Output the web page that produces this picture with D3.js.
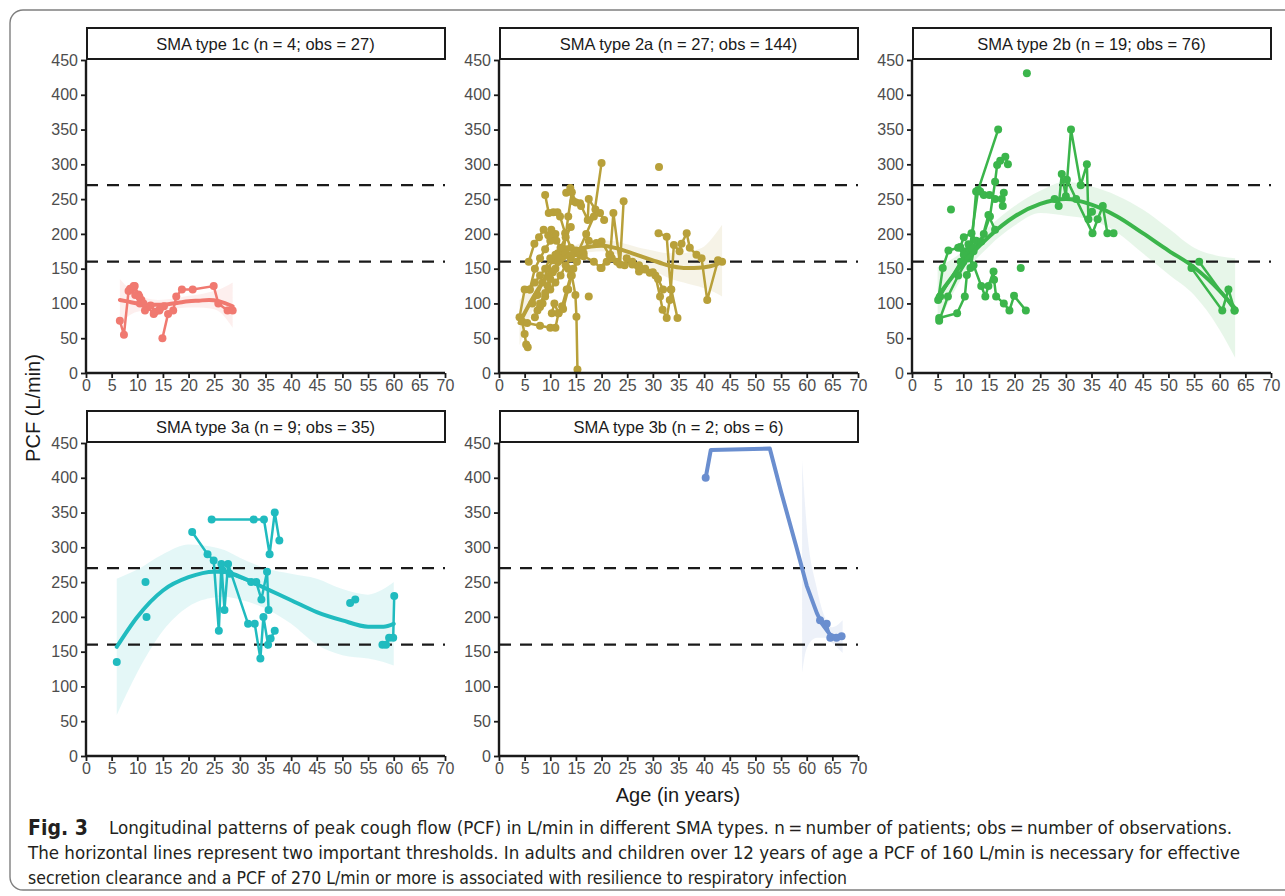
<!DOCTYPE html>
<html>
<head>
<meta charset="utf-8">
<script src="https://cdn.jsdelivr.net/npm/d3@7"></script>
<style>
  body { margin: 0; background: #fff; }
  svg { display: block; }
</style>
</head>
<body>
<div id="chart"></div>
<script>
// ---- data (age in years, PCF in L/min) ----
const ageTicks = d3.range(0, 71, 5);
const pcfTicks = d3.range(0, 451, 50);
const thresholds = [160, 270];

const panelTitles = [
  'SMA type 1c (n = 4; obs = 27)',
  'SMA type 2a (n = 27; obs = 144)',
  'SMA type 2b (n = 19; obs = 76)',
  'SMA type 3a (n = 9; obs = 35)',
  'SMA type 3b (n = 2; obs = 6)'
];
const panelColors = ['#F07970', '#B8A03A', '#3BB54B', '#20BBBF', '#6A8ECF'];

// patient trajectories per SMA type
const traj1c = [
  [[6.6, 75], [7.4, 55], [8.3, 118], [9.0, 122], [9.5, 125], [10.2, 113], [10.8, 105], [11.5, 90]],
  [[8.6, 121], [9.6, 112], [10.5, 100], [12.0, 95], [13.2, 85], [14.3, 90], [15.2, 96]],
  [[9.3, 125], [10.4, 110], [11.2, 100], [12.6, 97], [13.5, 88], [14.4, 92]],
  [[14.9, 50], [16.0, 85], [17.0, 90], [17.6, 110], [18.7, 120], [20.8, 120], [24.9, 125], [25.8, 100], [27.6, 90], [28.6, 90]]
];
const traj2a = [
  [[4, 80], [5, 120], [6, 120], [7, 150], [8, 165], [9, 178], [10, 190], [11, 200]],
  [[4.5, 74], [5, 56], [5.3, 41], [5.6, 37]],
  [[5.8, 160], [6.9, 186], [7.8, 195], [8.7, 206], [9.6, 198], [10.2, 206], [11.2, 190], [12.5, 175]],
  [[9, 256], [9.7, 230], [10.6, 231], [11.4, 231], [11.9, 225], [12.9, 201], [14, 180], [15, 172]],
  [[13.1, 259], [13.9, 266], [14.5, 247], [15.8, 244], [17.3, 220], [17.5, 250], [18.8, 235], [19.7, 230], [20.5, 220]],
  [[13.5, 150], [14.2, 140], [14.9, 112], [15.1, 81], [15.3, 5]],
  [[5.5, 72], [8, 68], [10, 65], [11, 65], [11.6, 86], [12.3, 96], [13.2, 120], [14, 140], [15.2, 160], [16.5, 172], [17.5, 190], [19, 187], [20, 189], [21.5, 170]],
  [[6.5, 100], [7.5, 112], [8.5, 130], [9.5, 150], [10.5, 162], [11.5, 172], [13, 178], [15, 176], [16.5, 168], [18.5, 160], [19.8, 151], [21.7, 170], [22.3, 230], [23.6, 156], [24.3, 247]],
  [[10.3, 86], [10.8, 100], [11.6, 86], [12.5, 92], [13.5, 120], [14.5, 150], [16, 175]],
  [[7, 80], [8, 95], [9, 110], [10, 120], [11, 130], [12, 140], [13, 155], [14, 165], [15.5, 175], [17, 200], [18.5, 225], [20, 302]],
  [[7.5, 90], [8.5, 100], [9.5, 125], [10.5, 145], [11.5, 160], [12.5, 170], [13.5, 225], [14.2, 260], [15, 245], [16, 240]],
  [[17.5, 110]],
  [[24.9, 165], [26, 156], [27.3, 146], [29.4, 144], [30.5, 140], [31.4, 110], [31.9, 91], [32.7, 79], [33.3, 105], [33.6, 120], [34.8, 79]],
  [[31.1, 201], [32.7, 196], [33.5, 120], [34.1, 184], [35.2, 175], [35.6, 186], [36.6, 201], [37.2, 180], [38.5, 170], [39.5, 165], [40.6, 105], [42.7, 162], [43.5, 160]],
  [[31.2, 296]],
  [[20, 151], [21, 160], [22, 165], [23, 160], [24.5, 155], [26, 160], [27.3, 155], [28.5, 150], [30, 145], [31, 135], [32, 120]],
  [[6, 120], [7, 130], [8, 140], [9, 150], [10, 165], [11, 170], [12, 180], [13, 195], [14, 210]],
  [[8, 100], [9, 115], [10, 135], [11, 150], [12, 165], [13, 172], [14, 168]]
];
const traj2b = [
  [[22.4, 431]], [[7.6, 235]], [[21.2, 151]],
  [[5.1, 105], [6, 151], [7.1, 176], [9.4, 181], [10.1, 195], [11.6, 201], [12.5, 190]],
  [[5.3, 79], [8.8, 86], [10.3, 110], [10.7, 141], [11.4, 151], [12, 175], [14, 200], [15.2, 225], [16.2, 275], [16.6, 299], [17.2, 305], [18.2, 311], [18.7, 300]],
  [[5.3, 75], [7, 110], [9, 140], [11, 165], [12.9, 263], [16.8, 350]],
  [[5.5, 110], [9.5, 160], [10.5, 175], [11.6, 180], [12.5, 261], [13.3, 261], [14, 256], [15.1, 256], [16.2, 250], [17.5, 250], [17.7, 240], [17.9, 259]],
  [[9, 180], [10.1, 170], [11, 165], [12, 155], [13.5, 125], [14.3, 110], [14.9, 125], [15.9, 146], [16, 134], [16.4, 110], [17.9, 100], [19, 90], [19.9, 111], [22.2, 90]],
  [[10, 160], [11, 185], [12, 180], [13.5, 189], [14.9, 227], [16.2, 206]],
  [[27.8, 250], [28.6, 240], [29.2, 286], [30, 254], [31, 350], [32.9, 270], [34.1, 300], [34.4, 221], [35.1, 232]],
  [[30.2, 278], [32, 250], [35.2, 201], [36.2, 221], [37.2, 240], [38.1, 201], [39.3, 201]],
  [[54.5, 151], [60.5, 90], [61.7, 120], [62.9, 90]],
  [[56, 160], [62.9, 90]]
];
const traj3a = [
  [[6, 135]], [[11.6, 250]], [[11.8, 200]],
  [[20.7, 322], [23.7, 290], [24.9, 281], [25.9, 180], [26.4, 276], [27, 210], [27.7, 276], [31.6, 190], [32.9, 190], [34, 140], [34.6, 200], [35.5, 160], [36, 169], [36.8, 180]],
  [[26.6, 267], [28, 262], [32.2, 250], [33.2, 250], [34.2, 225], [35.3, 265], [35.6, 210]],
  [[24.5, 340], [32.7, 340], [34.7, 340], [35.8, 290], [36.8, 350], [37.7, 310]],
  [[51.5, 220], [52.5, 225]],
  [[57.8, 160], [58.5, 160], [59.1, 170], [59.9, 170], [60.1, 230]]
];
const traj3b = [
  [[40.3, 400]],
  [[62.6, 195], [63.9, 190], [64.6, 170], [65.8, 170], [66.8, 172]]
];

// smoothed trend (fit) with confidence band: age, fit, lower, upper
const fitAge1c = [6.6, 8, 10, 12, 14, 16, 18, 20, 22, 24, 26, 28.6];
const fitMid1c = [105, 103, 100, 98, 98, 99, 101, 103, 104, 105, 103, 96];
const fitLo1c  = [68, 80, 88, 90, 90, 91, 93, 94, 94, 93, 88, 65];
const fitHi1c  = [135, 124, 113, 107, 105, 106, 108, 111, 113, 116, 120, 130];

const fitAge2a = [4, 6, 8, 10, 12, 14, 16, 18, 20, 22, 24, 26, 28, 30, 32, 34, 36, 38, 40, 42, 43.5];
const fitMid2a = [72, 100, 125, 145, 160, 172, 179, 182, 183, 181, 177, 172, 167, 162, 157, 153, 151, 151, 152, 155, 160];
const fitLo2a  = [40, 80, 112, 135, 152, 164, 171, 174, 175, 173, 168, 162, 155, 148, 140, 134, 130, 126, 122, 116, 110];
const fitHi2a  = [105, 120, 138, 155, 168, 180, 187, 190, 191, 190, 187, 183, 179, 176, 173, 172, 172, 176, 182, 198, 213];

const fitAge2b = [5, 10, 15, 20, 25, 30, 35, 40, 45, 50, 55, 60, 63];
const fitMid2b = [110, 158, 196, 225, 243, 250, 242, 225, 201, 176, 152, 118, 93];
const fitLo2b  = [68, 140, 182, 212, 230, 226, 220, 202, 172, 142, 112, 62, 22];
const fitHi2b  = [152, 175, 210, 240, 262, 275, 268, 255, 235, 208, 180, 168, 165];

const fitAge3a = [6, 10, 15, 20, 25, 27, 30, 35, 40, 45, 50, 55, 58, 60];
const fitMid3a = [157, 200, 238, 257, 265, 265, 258, 241, 224, 207, 195, 186, 186, 190];
const fitLo3a  = [59, 120, 180, 215, 228, 229, 225, 212, 190, 160, 145, 140, 135, 130];
const fitHi3a  = [255, 268, 290, 304, 300, 296, 285, 270, 262, 255, 240, 232, 240, 250];

const fitAge3b = [40.3, 41.3, 52.8, 55, 58, 60, 62, 63, 64.5, 66, 67];
const fitMid3b = [400, 440, 442, 380, 300, 245, 205, 190, 175, 170, 172];
const bandAge3b = [59.1, 60, 62, 63.5, 65, 67];
const bandLo3b  = [120, 155, 170, 170, 162, 148];
const bandHi3b  = [425, 330, 240, 200, 185, 195];

const captionLines = [
  'Longitudinal patterns of peak cough flow (PCF) in L/min in different SMA types. n\u2009=\u2009number of patients; obs\u2009=\u2009number of observations.',
  'The horizontal lines represent two important thresholds. In adults and children over 12 years of age a PCF of 160 L/min is necessary for effective',
  'secretion clearance and a PCF of 270 L/min or more is associated with resilience to respiratory infection'
];

// ---- layout ----
const W = 1285, H = 896;
const colX = [86, 499, 912];
const rowTop = [60, 443];
const pw = 359, ph = 313;
const font = '"Liberation Sans", Arial, Helvetica, sans-serif';

const panels = [
  { traj: traj1c, fit: { age: fitAge1c, mid: fitMid1c, lo: fitLo1c, hi: fitHi1c }, col: 0, row: 0 },
  { traj: traj2a, fit: { age: fitAge2a, mid: fitMid2a, lo: fitLo2a, hi: fitHi2a }, col: 1, row: 0 },
  { traj: traj2b, fit: { age: fitAge2b, mid: fitMid2b, lo: fitLo2b, hi: fitHi2b }, col: 2, row: 0 },
  { traj: traj3a, fit: { age: fitAge3a, mid: fitMid3a, lo: fitLo3a, hi: fitHi3a }, col: 0, row: 1 },
  { traj: traj3b, fit: { age: fitAge3b, mid: fitMid3b }, band: { age: bandAge3b, lo: bandLo3b, hi: bandHi3b }, col: 1, row: 1, linear: true }
];

const svg = d3.select('#chart').append('svg')
  .attr('width', W).attr('height', H)
  .style('font-family', font);

svg.append('rect').attr('width', W).attr('height', H).attr('fill', '#fff');

// outer figure frame
svg.append('path')
  .attr('d', 'M1295,10 H23 A13,13 0 0 0 10,23 V877 A13,13 0 0 0 23,890 H1295')
  .attr('fill', 'none')
  .attr('stroke', '#7f7f7f')
  .attr('stroke-width', 1.4);

panels.forEach((p, i) => {
  const x0 = colX[p.col], y0 = rowTop[p.row];
  const color = panelColors[i];
  const x = d3.scaleLinear().domain([0, 70]).range([0, pw]);
  const y = d3.scaleLinear().domain([0, 450]).range([ph, 0]);

  const g = svg.append('g').attr('transform', `translate(${x0},${y0})`);

  // strip
  g.append('rect')
    .attr('x', 1).attr('y', -32)
    .attr('width', pw - 1).attr('height', 31)
    .attr('fill', '#fff')
    .attr('stroke', '#1a1a1a')
    .attr('stroke-width', 2);
  g.append('text')
    .attr('x', pw / 2).attr('y', -16)
    .attr('text-anchor', 'middle')
    .attr('dominant-baseline', 'central')
    .style('font-size', '16.5px')
    .attr('fill', '#1a1a1a')
    .text(panelTitles[i]);

  const curve = p.linear ? d3.curveLinear : d3.curveMonotoneX;

  // confidence band
  const b = p.band || p.fit;
  const bandData = b.age.map((a, k) => ({ a, lo: b.lo[k], hi: b.hi[k] }));
  g.append('path')
    .datum(bandData)
    .attr('d', d3.area().curve(d3.curveMonotoneX)
      .x(d => x(d.a)).y0(d => y(d.lo)).y1(d => y(d.hi)))
    .attr('fill', color)
    .attr('fill-opacity', 0.12);

  // threshold lines
  g.selectAll('.thr')
    .data(thresholds)
    .enter().append('line')
    .attr('x1', 0).attr('x2', pw)
    .attr('y1', d => y(d)).attr('y2', d => y(d))
    .attr('stroke', '#1a1a1a')
    .attr('stroke-width', 2.2)
    .attr('stroke-dasharray', '12,9');

  // patient trajectories
  const line = d3.line().x(d => x(d[0])).y(d => y(d[1]));
  g.selectAll('.traj')
    .data(p.traj.filter(t => t.length > 1))
    .enter().append('path')
    .attr('d', line)
    .attr('fill', 'none')
    .attr('stroke', color)
    .attr('stroke-width', 2.5);

  g.selectAll('.pt')
    .data(p.traj.flat())
    .enter().append('circle')
    .attr('cx', d => x(d[0]))
    .attr('cy', d => y(d[1]))
    .attr('r', 4)
    .attr('fill', color);

  // smooth trend line
  const fitData = p.fit.age.map((a, k) => [a, p.fit.mid[k]]);
  g.append('path')
    .datum(fitData)
    .attr('d', d3.line().curve(curve).x(d => x(d[0])).y(d => y(d[1])))
    .attr('fill', 'none')
    .attr('stroke', color)
    .attr('stroke-width', 4)
    .attr('stroke-linejoin', 'round')
    .attr('stroke-linecap', 'round');

  // axes
  const yAxis = g.append('g')
    .call(d3.axisLeft(y).tickValues(pcfTicks).tickSize(5).tickPadding(3));
  const xAxis = g.append('g')
    .attr('transform', `translate(0,${ph})`)
    .call(d3.axisBottom(x).tickValues(ageTicks).tickSize(5).tickPadding(2));

  [xAxis, yAxis].forEach(ax => {
    ax.select('.domain').attr('stroke', '#1a1a1a').attr('stroke-width', 2.4);
    ax.selectAll('.tick line').attr('stroke', '#1a1a1a').attr('stroke-width', 1.8);
    ax.selectAll('.tick text')
      .attr('fill', '#4d4d4d')
      .style('font-size', '16px')
      .style('font-family', font);
  });
  yAxis.select('.domain').attr('d', `M0,${ph}V0`);
  xAxis.select('.domain').attr('d', `M0,0H${pw}`);
});

// axis titles
svg.append('text')
  .attr('x', 678).attr('y', 802)
  .attr('text-anchor', 'middle')
  .style('font-size', '20px')
  .attr('fill', '#1a1a1a')
  .text('Age (in years)');

svg.append('text')
  .attr('transform', 'translate(40,408) rotate(-90)')
  .attr('text-anchor', 'middle')
  .style('font-size', '20px')
  .attr('fill', '#1a1a1a')
  .text('PCF (L/min)');

// caption
const capFont = '"Liberation Sans Narrow", "DejaVu Sans Condensed", "Liberation Sans", sans-serif';
const cap = svg.append('g').style('font-family', capFont).style('font-size', '18px').attr('fill', '#231f20');
cap.append('text')
  .attr('x', 28).attr('y', 835)
  .style('font-weight', 'bold')
  .style('font-size', '21px')
  .text('Fig. 3');
const capX = [109, 28, 28];
const capEnd = [1232, 1240, 847];
const capY = [834, 859, 884];
captionLines.forEach((t, k) => {
  cap.append('text')
    .attr('x', capX[k]).attr('y', capY[k])
    .attr('textLength', capEnd[k] - capX[k])
    .attr('lengthAdjust', 'spacingAndGlyphs')
    .text(t);
});
</script>
</body>
</html>
